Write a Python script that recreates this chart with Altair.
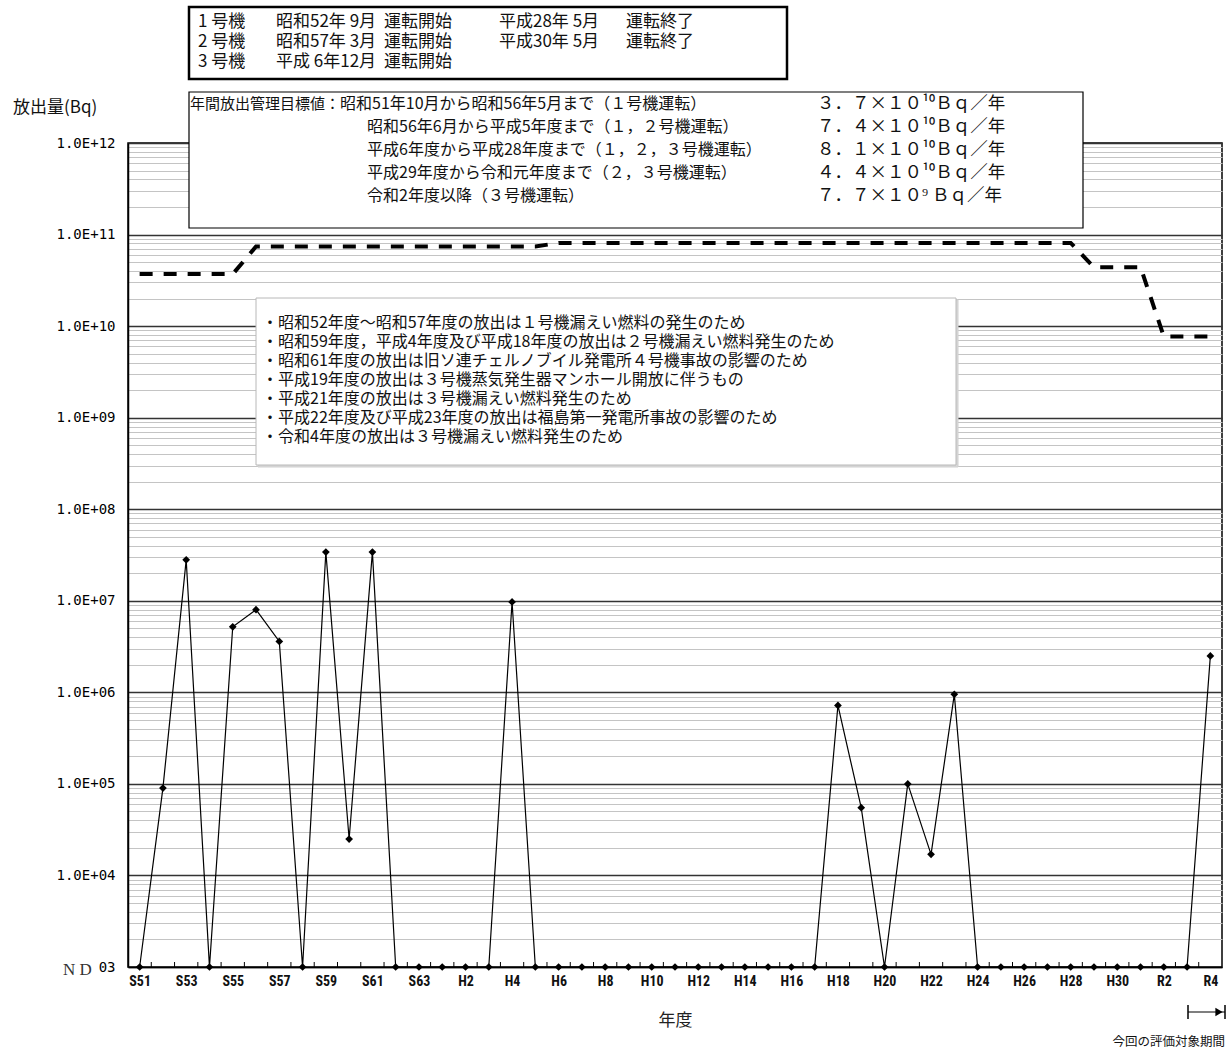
import json
import altair as alt
import pandas as pd

# ---------------- data ----------------
YEARS = ([f"S{n}" for n in range(51, 64)]
         + [f"H{n}" for n in range(1, 31)]
         + [f"R{n}" for n in range(1, 5)])

ND = None          # not detected -> drawn on the ND line
ND_LEVEL = 1e3

RELEASE = [
    ND, 9.0e4, 2.8e7, ND, 5.2e6, 8.0e6, 3.6e6, ND, 3.4e7, 2.5e4, 3.4e7, ND, ND,      # S51-S63
    ND, ND, ND, 9.7e6, ND, ND, ND, ND, ND, ND, ND, ND, ND, ND, ND, ND, ND,           # H1-H17
    7.2e5, 5.5e4, ND, 1.0e5, 1.7e4, 9.5e5, ND, ND, ND, ND, ND, ND, ND,               # H18-H30
    ND, ND, ND, 2.5e6,                                                                # R1-R4
]

TARGET = [
    3.7e10, 3.7e10, 3.7e10, 3.7e10, 3.7e10,                                           # S51-S55
    7.4e10, 7.4e10, 7.4e10, 7.4e10, 7.4e10, 7.4e10, 7.4e10, 7.4e10,                   # S56-S63
    7.4e10, 7.4e10, 7.4e10, 7.4e10, 7.4e10,                                           # H1-H5
    8.1e10, 8.1e10, 8.1e10, 8.1e10, 8.1e10, 8.1e10, 8.1e10, 8.1e10, 8.1e10, 8.1e10,   # H6-H15
    8.1e10, 8.1e10, 8.1e10, 8.1e10, 8.1e10, 8.1e10, 8.1e10, 8.1e10, 8.1e10, 8.1e10,   # H16-H25
    8.1e10, 8.1e10, 8.1e10,                                                           # H26-H28
    4.4e10, 4.4e10, 4.4e10,                                                           # H29-R1
    7.7e9, 7.7e9, 7.7e9,                                                              # R2-R4
]

UNIT_ROWS = [
    ["1 号機", "昭和52年 9月", "運転開始", "平成28年 5月", "運転終了"],
    ["2 号機", "昭和57年 3月", "運転開始", "平成30年 5月", "運転終了"],
    ["3 号機", "平成 6年12月", "運転開始", "", ""],
]

TARGET_HEAD = "年間放出管理目標値："
TARGET_PERIODS = [
    "昭和51年10月から昭和56年5月まで（１号機運転）",
    "昭和56年6月から平成5年度まで（１，２号機運転）",
    "平成6年度から平成28年度まで（１，２，３号機運転）",
    "平成29年度から令和元年度まで（２，３号機運転）",
    "令和2年度以降（３号機運転）",
]
TARGET_VALUES = [
    "３．７×１０¹⁰Ｂｑ／年",
    "７．４×１０¹⁰Ｂｑ／年",
    "８．１×１０¹⁰Ｂｑ／年",
    "４．４×１０¹⁰Ｂｑ／年",
    "７．７×１０⁹ Ｂｑ／年",
]

NOTES = [
    "・昭和52年度～昭和57年度の放出は１号機漏えい燃料の発生のため",
    "・昭和59年度，平成4年度及び平成18年度の放出は２号機漏えい燃料発生のため",
    "・昭和61年度の放出は旧ソ連チェルノブイル発電所４号機事故の影響のため",
    "・平成19年度の放出は３号機蒸気発生器マンホール開放に伴うもの",
    "・平成21年度の放出は３号機漏えい燃料発生のため",
    "・平成22年度及び平成23年度の放出は福島第一発電所事故の影響のため",
    "・令和4年度の放出は３号機漏えい燃料発生のため",
]

assert len(YEARS) == len(RELEASE) == len(TARGET) == 47

df = pd.DataFrame({
    "idx": list(range(len(YEARS))),
    "year": YEARS,
    "release": [ND_LEVEL if v is None else v for v in RELEASE],
    "target": TARGET,
})
edges = pd.DataFrame({"edge": [i + 0.5 for i in range(len(YEARS) - 1)]})

# ---------------- layout ----------------
W, H = 1094, 824
JP = "Noto Sans CJK JP"

XS = alt.Scale(domain=[-0.5, len(YEARS) - 0.5], nice=False, zero=False)
YS = alt.Scale(type="log", domain=[1e3, 1e12], nice=False)

x_label_expr = json.dumps(YEARS) + "[datum.value]"
X_AXIS = alt.Axis(
    values=list(range(0, len(YEARS), 2)), labelExpr=x_label_expr,
    ticks=False, grid=False, title="年度", titleFont=JP, titleFontSize=17,
    titleFontWeight="normal", titlePadding=24, titleColor="#222",
    labelFont="Liberation Sans Narrow, Roboto Condensed, Arial Narrow, sans-serif",
    labelFontSize=14, labelFontWeight="bold", labelColor="#111", labelPadding=7,
    labelOverlap=False, labelFlush=False, domainColor="black", domainWidth=1.5,
)

LOG = "(log(datum.value)/LN10)"
IS_DECADE = f"abs({LOG} - round({LOG})) < 0.001"
Y_TICKS = [m * 10 ** e for e in range(3, 12) for m in range(1, 10)] + [10 ** 12]
y_label_expr = (f"datum.value <= 1000 ? '03' : ({IS_DECADE} ? '1.0E+' + "
                f"(round({LOG}) < 10 ? '0' : '') + round({LOG}) : '')")
Y_AXIS = alt.Axis(
    values=Y_TICKS, labelExpr=y_label_expr, ticks=False, title=None,
    grid=True,
    gridColor={"condition": {"test": IS_DECADE, "value": "#333333"}, "value": "#c4c4c4"},
    gridWidth={"condition": {"test": IS_DECADE, "value": 1.5}, "value": 1},
    labelFont="DejaVu Sans Mono", labelFontSize=14, labelColor="#000",
    labelPadding=13, labelOverlap=False, labelFlush=False, labelBound=False,
    domainColor="black", domainWidth=1.5,
)

base = alt.Chart(df)

release_line = base.mark_line(color="black", strokeWidth=1.2).encode(
    x=alt.X("idx:Q", scale=XS, axis=X_AXIS),
    y=alt.Y("release:Q", scale=YS, axis=Y_AXIS),
)
release_pts = base.mark_point(shape="diamond", filled=True, size=60,
                              color="black", opacity=1).encode(
    x=alt.X("idx:Q", scale=XS, axis=X_AXIS),
    y=alt.Y("release:Q", scale=YS, axis=Y_AXIS),
)
target_line = base.mark_line(color="black", strokeWidth=4, strokeDash=[13, 11],
                             strokeCap="butt").encode(
    x=alt.X("idx:Q", scale=XS, axis=X_AXIS),
    y=alt.Y("target:Q", scale=YS, axis=Y_AXIS),
)
inner_ticks = alt.Chart(edges).mark_rule(color="black", strokeWidth=1).encode(
    x=alt.X("edge:Q", scale=XS, axis=X_AXIS),
    y=alt.value(H), y2=alt.value(H - 5),
)

ONE = pd.DataFrame({"a": [0]})


def box(x0, x1, y0, y1, stroke="black", sw=1.0, fill="white"):
    return alt.Chart(ONE).mark_rect(fill=fill, stroke=stroke, strokeWidth=sw).encode(
        x=alt.value(x0), x2=alt.value(x1), y=alt.value(y0), y2=alt.value(y1))


def text(t, x, y, size=15, font=JP, align="left", color="#111", weight="normal"):
    return alt.Chart(pd.DataFrame({"t": [t]})).mark_text(
        align=align, baseline="middle", font=font, fontSize=size,
        color=color, fontWeight=weight).encode(
        x=alt.value(x), y=alt.value(y), text="t:N")


layers = [target_line, release_line, release_pts, inner_ticks]

# box of unit operation periods (top)
layers.append(box(61, 659, -136, -64, sw=2.5))
unit_cols = [70, 148, 256, 371, 498]
for r, row in enumerate(UNIT_ROWS):
    for c, t in enumerate(row):
        if t:
            layers.append(text(t, unit_cols[c], -121 + r * 20, size=17))

# box of management targets
layers.append(box(61, 955, -51, 85, sw=1.2))
layers.append(text(TARGET_HEAD, 62, -39, size=15))
for r, (p, v) in enumerate(zip(TARGET_PERIODS, TARGET_VALUES)):
    layers.append(text(p, 212 if r == 0 else 239, -39 + r * 23, size=16))
    layers.append(text(v, 689, -39 + r * 23, size=17.5))

# notes box
layers.append(box(130, 830, 157, 324, stroke="#d0d0d0", sw=1, fill="#d8d8d8"))
layers.append(box(128, 828, 155, 322, stroke="#b8b8b8", sw=1))
for r, t in enumerate(NOTES):
    layers.append(text(t, 134, 180 + r * 19, size=16))

# y title and ND label
layers.append(text("放出量(Bq)", -115, -35, size=17))
layers.append(text("N D", -65, H + 3, size=17, font="Liberation Serif, DejaVu Serif, serif",
                   color="#333"))

# evaluation period arrow + caption
layers.append(alt.Chart(ONE).mark_rule(color="black", strokeWidth=1.2).encode(
    x=alt.value(1060), x2=alt.value(1097), y=alt.value(869)))
layers.append(alt.Chart(ONE).mark_rule(color="black", strokeWidth=1.5).encode(
    x=alt.value(1060), y=alt.value(862), y2=alt.value(876)))
layers.append(alt.Chart(ONE).mark_rule(color="black", strokeWidth=1.5).encode(
    x=alt.value(1097), y=alt.value(862), y2=alt.value(876)))
layers.append(alt.Chart(ONE).mark_point(shape="triangle-right", filled=True, size=70,
                                        color="black", opacity=1).encode(
    x=alt.value(1091), y=alt.value(869)))
layers.append(text("今回の評価対象期間", 1097, 899, size=12.5, align="right"))

chart = alt.layer(*layers).properties(
    width=W, height=H,
    autosize=alt.AutoSizeParams(type="none"),
    padding={"left": 128, "top": 143, "right": 10, "bottom": 87},
    background="white",
).configure_view(stroke="black", strokeWidth=1.5)

chart.save("out.html", embed_options={"renderer": "svg", "actions": False})
